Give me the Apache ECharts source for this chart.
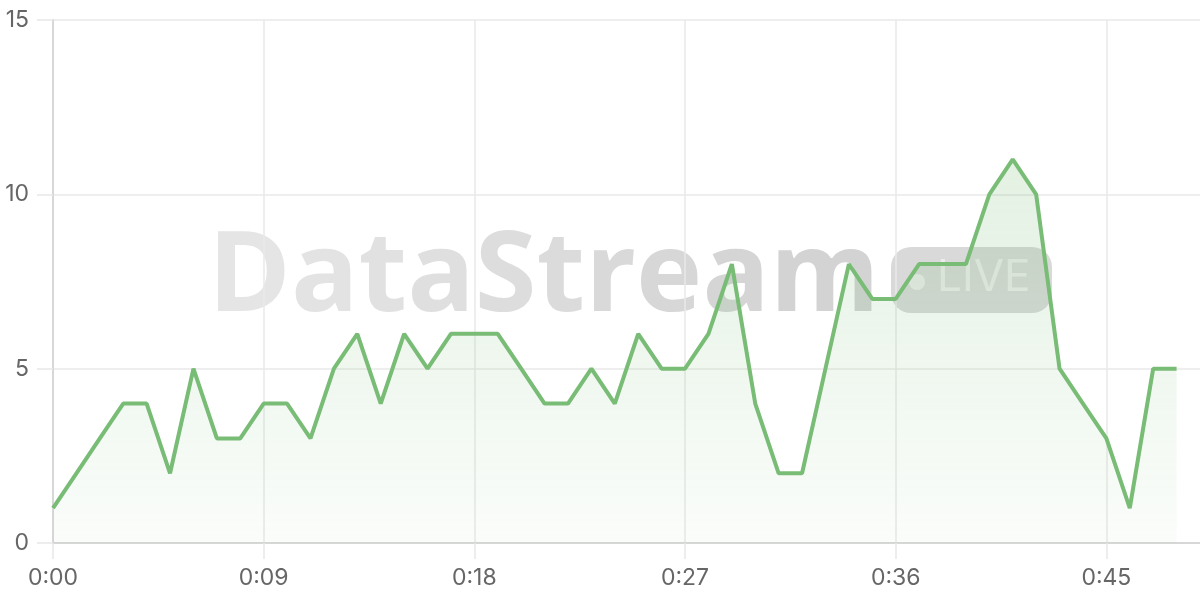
<!DOCTYPE html>
<html>
<head>
<meta charset="utf-8">
<style>html,body{margin:0;padding:0;background:#fff;}#c{width:1200px;height:600px;}</style>
<script src="https://cdn.jsdelivr.net/npm/echarts@6/dist/echarts.min.js"></script>
</head>
<body>
<div id="c"></div>
<script>
// x categories: seconds 0..49 (label m:ss)
var seconds = [];
for (var s = 0; s <= 49; s++) seconds.push(s);
var categories = seconds.map(function (s) { return Math.floor(s / 60) + ':' + (s % 60 < 10 ? '0' : '') + (s % 60); });
var values = [1, 2, 3, 4, 4, 2, 5, 3, 3, 4, 4, 3, 5, 6, 4, 6, 5, 6, 6, 6,
              5, 4, 4, 5, 4, 6, 5, 5, 6, 8, 4, 2, 2, 5, 8, 7, 7, 8, 8, 8,
              10, 11, 10, 5, 4, 3, 1, 5, 5];
var yTicks = [0, 5, 10, 15];
var watermarkText = 'DataStream';
var badgeText = 'LIVE';

// watermark letters fade from light (left) to slightly darker (right)
var wmRich = {};
var wmStr = '';
var letters = watermarkText.split('');
letters.forEach(function (ch, i) {
  var t = i / (letters.length - 1);
  var g = Math.round(229 - t * 18);
  wmRich['c' + i] = { fill: 'rgb(' + g + ',' + g + ',' + g + ')', font: 'bold 112px "Open Sans", sans-serif' };
  wmStr += '{c' + i + '|' + ch + '}';
});

var chart = echarts.init(document.getElementById('c'));
var labelStyle = { color: '#666', fontSize: 23, fontFamily: 'Inter, sans-serif' };
chart.setOption({
  animation: false,
  grid: { left: 53, right: 0, top: 20, bottom: 57 },
  graphic: [
    {
      type: 'text', z: 0, x: 208, y: 279,
      style: {
        text: wmStr,
        rich: wmRich,
        font: 'bold 112px "Open Sans", sans-serif',
        verticalAlign: 'middle'
      }
    },
    {
      type: 'rect', z: 0, left: 891, top: 247,
      shape: { width: 161, height: 66, r: 20 },
      style: { fill: 'rgba(0,0,0,0.15)' }
    },
    {
      type: 'circle', z: 0, left: 909, top: 274,
      shape: { r: 8 },
      style: { fill: 'rgba(255,255,255,0.5)' }
    },
    {
      type: 'text', z: 0, left: 937, top: 256,
      style: { text: badgeText, font: '44px Inter, sans-serif', fill: 'rgba(255,255,255,0.5)' }
    }
  ],
  xAxis: {
    type: 'category',
    data: categories,
    boundaryGap: false,
    axisLine: { show: true, lineStyle: { color: '#cfcfcf', width: 1.5 } },
    axisTick: { show: true, interval: 8, length: 16, lineStyle: { color: '#e8e8e8', width: 1.5 } },
    axisLabel: Object.assign({ interval: 8, margin: 24 }, labelStyle),
    splitLine: { show: true, interval: 8, lineStyle: { color: '#e8e8e8', width: 1.5 } }
  },
  yAxis: {
    type: 'value',
    min: yTicks[0], max: yTicks[yTicks.length - 1], interval: 5,
    axisLine: { show: true, lineStyle: { color: '#cfcfcf', width: 1.5 } },
    axisTick: { show: true, length: 16, lineStyle: { color: '#e8e8e8', width: 1.5 } },
    axisLabel: Object.assign({ margin: 24 }, labelStyle),
    splitLine: { show: true, lineStyle: { color: '#e8e8e8', width: 1.5 } }
  },
  series: [{
    type: 'line',
    data: values,
    z: 3,
    symbol: 'none',
    lineStyle: { color: '#78bc76', width: 4 },
    areaStyle: {
      color: new echarts.graphic.LinearGradient(0, 0, 0, 1, [
        { offset: 0, color: 'rgba(122,189,120,0.30)' },
        { offset: 1, color: 'rgba(122,189,120,0.05)' }
      ])
    }
  }]
});
</script>
</body>
</html>
